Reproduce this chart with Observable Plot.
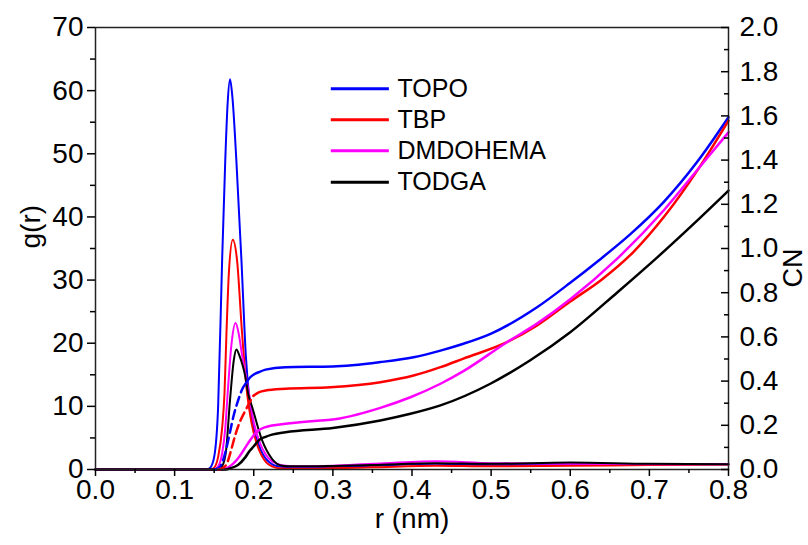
<!DOCTYPE html>
<html><head><meta charset="utf-8">
<script src="https://cdn.jsdelivr.net/npm/d3@7"></script>
<script src="https://cdn.jsdelivr.net/npm/@observablehq/plot@0.6"></script>
<style>body{margin:0;background:#fff}</style>
</head><body><div id="chart"></div>
<script>
const series = ["TOPO", "TBP", "DMDOHEMA", "TODGA"];
const colors = ["#0000ff", "#ff0000", "#ff00ff", "#000000"];

// g(r) curves (left axis)
const topoGrR = [0, 0.14, 0.145, 0.15, 0.155, 0.16, 0.164, 0.167, 0.17, 0.173, 0.178, 0.1845, 0.19, 0.195, 0.2, 0.206, 0.212, 0.22, 0.23, 0.25, 0.3, 0.35, 0.43, 0.5, 0.6, 0.7, 0.8];
const topoGrV = [0, 0, 0.3, 2, 10, 33, 49, 58, 61.8, 59, 49, 33, 18, 10.5, 6.5, 4, 2.3, 1.1, 0.5, 0.3, 0.4, 0.6, 0.9, 0.7, 0.8, 0.8, 0.85];
const tbpGrR = [0, 0.145, 0.15, 0.155, 0.16, 0.163, 0.1655, 0.1685, 0.1735, 0.179, 0.185, 0.1916, 0.197, 0.204, 0.21, 0.216, 0.223, 0.235, 0.25, 0.3, 0.35, 0.43, 0.5, 0.6, 0.7, 0.8];
const tbpGrV = [0, 0, 0.3, 2, 6.5, 12, 21.5, 31, 36.4, 33, 22, 12, 7.5, 4, 2.2, 1.1, 0.5, 0.15, 0.1, 0.2, 0.35, 0.6, 0.5, 0.6, 0.7, 0.8];
const dmdGrR = [0, 0.15, 0.155, 0.16, 0.164, 0.167, 0.172, 0.177, 0.181, 0.185, 0.194, 0.2, 0.2085, 0.215, 0.222, 0.23, 0.24, 0.26, 0.3, 0.35, 0.43, 0.5, 0.6, 0.7, 0.8];
const dmdGrV = [0, 0, 0.5, 2.5, 6.5, 12, 20, 23.2, 21.5, 18.3, 12, 7.5, 4, 2.4, 1.4, 0.9, 0.6, 0.5, 0.6, 0.9, 1.3, 1.0, 0.9, 0.85, 0.85];
const todGrR = [0, 0.155, 0.16, 0.165, 0.17, 0.175, 0.178, 0.182, 0.1895, 0.193, 0.198, 0.2106, 0.223, 0.236, 0.25, 0.27, 0.3, 0.35, 0.43, 0.5, 0.6, 0.7, 0.8];
const todGrV = [0, 0, 0.5, 3, 11, 17.5, 19, 18, 14.6, 12, 9.9, 4.6, 1.7, 0.6, 0.5, 0.5, 0.55, 0.7, 1.0, 0.9, 1.1, 0.9, 0.85];

// CN curves (right axis)
const topoCnR = [0, 0.15, 0.155, 0.16, 0.165, 0.17, 0.175, 0.18, 0.185, 0.19, 0.195, 0.2, 0.206, 0.215, 0.24, 0.3, 0.36, 0.402, 0.436, 0.465, 0.5, 0.558, 0.6, 0.636, 0.676, 0.718, 0.76, 0.8];
const topoCnV = [0, 0, 0.005, 0.03, 0.09, 0.17, 0.25, 0.31, 0.36, 0.39, 0.415, 0.43, 0.44, 0.452, 0.463, 0.466, 0.486, 0.508, 0.538, 0.569, 0.615, 0.734, 0.845, 0.946, 1.065, 1.21, 1.39, 1.594];
const tbpCnR = [0, 0.155, 0.16, 0.166, 0.17, 0.177, 0.183, 0.1895, 0.195, 0.2, 0.207, 0.215, 0.24, 0.297, 0.36, 0.402, 0.436, 0.465, 0.52, 0.558, 0.6, 0.64, 0.68, 0.72, 0.76, 0.8];
const tbpCnV = [0, 0, 0.005, 0.026, 0.07, 0.16, 0.22, 0.267, 0.305, 0.335, 0.35, 0.357, 0.365, 0.372, 0.395, 0.425, 0.463, 0.502, 0.576, 0.652, 0.76, 0.86, 0.985, 1.15, 1.35, 1.579];
const dmdCnR = [0, 0.16, 0.165, 0.17, 0.175, 0.18, 0.1895, 0.195, 0.2, 0.206, 0.215, 0.223, 0.24, 0.284, 0.297, 0.36, 0.398, 0.436, 0.465, 0.52, 0.558, 0.6, 0.657, 0.718, 0.76, 0.8];
const dmdCnV = [0, 0, 0.005, 0.015, 0.03, 0.05, 0.10, 0.13, 0.155, 0.176, 0.192, 0.199, 0.207, 0.222, 0.225, 0.279, 0.327, 0.388, 0.445, 0.576, 0.66, 0.77, 0.946, 1.172, 1.353, 1.526];
const todCnR = [0, 0.165, 0.17, 0.18, 0.1895, 0.195, 0.2, 0.206, 0.215, 0.223, 0.24, 0.3, 0.36, 0.398, 0.436, 0.499, 0.549, 0.6, 0.659, 0.71, 0.76, 0.8];
const todCnV = [0, 0, 0.005, 0.02, 0.056, 0.085, 0.105, 0.131, 0.148, 0.158, 0.169, 0.188, 0.222, 0.252, 0.29, 0.388, 0.493, 0.621, 0.80, 0.96, 1.125, 1.262];
// portion of the CN curve drawn dashed (r up to this value), null = none
const cnDashEnd = [0.19, 0.2, null, null];

// ticks
const xTicks = [0, 0.1, 0.2, 0.3, 0.4, 0.5, 0.6, 0.7, 0.8];
const xMinor = [0.05, 0.15, 0.25, 0.35, 0.45, 0.55, 0.65, 0.75];
const gTicks = [0, 10, 20, 30, 40, 50, 60, 70];
const gMinor = [5, 15, 25, 35, 45, 55, 65];
const cnTicks = [0, 0.2, 0.4, 0.6, 0.8, 1.0, 1.2, 1.4, 1.6, 1.8, 2.0];
const cnMinor = [0.1, 0.3, 0.5, 0.7, 0.9, 1.1, 1.3, 1.5, 1.7, 1.9];
const gMax = 70, cnMax = 2.0;
const K = gMax / cnMax;

// legend placement (in data units)
const legendX = [0.298, 0.3714, 0.3816];
const legendY = [60.3, 55.4, 50.5, 45.5];

const grSets = [[topoGrR, topoGrV], [tbpGrR, tbpGrV], [dmdGrR, dmdGrV], [todGrR, todGrV]];
const cnSets = [[topoCnR, topoCnV], [tbpCnR, tbpCnV], [dmdCnR, dmdCnV], [todCnR, todCnV]];

const grRows = grSets.flatMap(([rs, vs], k) => rs.map((r, i) => ({series: series[k], r, v: vs[i]})));
const cnSolid = [], cnDash = [];
cnSets.forEach(([rs, vs], k) => {
  const end = cnDashEnd[k];
  rs.forEach((r, i) => {
    const row = {series: series[k], r, v: vs[i] * K};
    if (end == null || r >= end) cnSolid.push(row);
    if (end != null && r <= end && r >= 0.14) cnDash.push(row);
  });
});
const font = "'Liberation Sans', Arial, sans-serif";
const tickFont = 28, titleFont = 28, legendFont = 25;

const chart = Plot.plot({
  width: 808, height: 545,
  marginLeft: 95, marginRight: 80, marginTop: 27, marginBottom: 76,
  style: {fontFamily: font, fontSize: "24px", background: "#fff", color: "#000"},
  x: {domain: [0, 0.8]},
  y: {domain: [0, gMax]},
  color: {domain: series, range: colors},
  marks: [
    Plot.line(grRows, {x: "r", y: "v", z: "series", stroke: "series", strokeWidth: 2, curve: "monotone-x"}),
    Plot.line(cnSolid, {x: "r", y: "v", z: "series", stroke: "series", strokeWidth: 2.5, curve: "monotone-x"}),
    Plot.line(cnDash, {x: "r", y: "v", z: "series", stroke: "series", strokeWidth: 2.5, strokeDasharray: "9,5", curve: "monotone-x"}),
    Plot.frame({stroke: "#222", strokeWidth: 1.5}),
    Plot.axisX({ticks: xTicks, tickSize: 7, tickPadding: 3, tickFormat: d3.format(".1f"), label: null, fontSize: tickFont, strokeWidth: 1.5}),
    Plot.axisX({ticks: xMinor, tickSize: 4, tickFormat: () => "", label: null, strokeWidth: 1.5}),
    Plot.axisY({ticks: gTicks, tickSize: 8, tickPadding: 4, label: null, fontSize: tickFont, strokeWidth: 1.5}),
    Plot.axisY({ticks: gMinor, tickSize: 5, tickFormat: () => "", label: null, strokeWidth: 1.5}),
    Plot.axisY({anchor: "right", ticks: cnTicks.map(c => c * K), tickFormat: d => (d / K).toFixed(1), tickSize: -8, tickPadding: 19, label: null, fontSize: tickFont, strokeWidth: 1.5}),
    Plot.axisY({anchor: "right", ticks: cnMinor.map(c => c * K), tickFormat: () => "", tickSize: -5, label: null, strokeWidth: 1.5}),
    Plot.text(["r (nm)"], {frameAnchor: "bottom", dy: 58, fontSize: titleFont}),
    Plot.text(["g(r)"], {frameAnchor: "left", dx: -64, rotate: -90, fontSize: titleFont}),
    Plot.text(["CN"], {frameAnchor: "right", dx: 65, rotate: -90, fontSize: 27}),
    Plot.ruleY(series, {y: (d, i) => legendY[i], x1: legendX[0], x2: legendX[1], stroke: d => d, strokeWidth: 3}),
    Plot.text(series, {y: (d, i) => legendY[i], x: legendX[2], text: d => d, textAnchor: "start", fontSize: legendFont})
  ]
});
document.getElementById("chart").append(chart);
</script>
</body></html>
